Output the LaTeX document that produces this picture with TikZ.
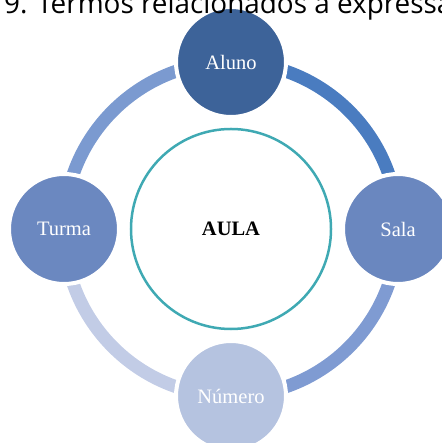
\documentclass[tikz,border=0pt]{standalone}
\usepackage{fontspec}
\setmainfont{Liberation Serif}
\newfontfamily\captionfont{Open Sans}
\usetikzlibrary{backgrounds}

\definecolor{alunoblue}{HTML}{3D6399}
\definecolor{turmablue}{HTML}{6B88C0}
\definecolor{salablue}{HTML}{6A87BF}
\definecolor{numeroblue}{HTML}{B5C3E0}
\definecolor{ringA}{HTML}{4A7CC0}
\definecolor{ringB}{HTML}{7F9BD2}
\definecolor{ringC}{HTML}{C2CCE6}
\definecolor{ringD}{HTML}{7B9AD0}
\definecolor{aulateal}{HTML}{3FA9B3}

\begin{document}
\begin{tikzpicture}[x=0.03cm, y=0.03cm,
    main/.style = {circle, draw=white, line width=1.2mm, minimum size=3.3cm,
        text=white, font=\fontsize{17.5}{20}\selectfont},
    ring/.style = {line width=3.9mm}]
    \useasboundingbox (0,0) rectangle (441,443);

    \node[circle, draw=aulateal, line width=0.75mm, minimum size=6cm,
        font=\bfseries\fontsize{17.5}{20}\selectfont] (aula) at (231, 214) {AULA};

    \node[main, fill=alunoblue] (aluno) at (231, 381) {Aluno};
    \node[main, fill=salablue] (sala) at (398, 214) {Sala};
    \node[main, fill=numeroblue] (numero) at (231, 47) {Número};
    \node[main, fill=turmablue] (turma) at (64, 214) {Turma};

    \begin{scope}[on background layer]
        \draw[ring, ringA] (aluno.center) arc[start angle=90, end angle=0, radius=5.01cm];
        \draw[ring, ringB] (sala.center) arc[start angle=0, end angle=-90, radius=5.01cm];
        \draw[ring, ringC] (numero.center) arc[start angle=270, end angle=180, radius=5.01cm];
        \draw[ring, ringD] (turma.center) arc[start angle=180, end angle=90, radius=5.01cm];
    \end{scope}

    % caption cut off at the top edge
    \begin{scope}
        \clip (0,0) rectangle (441,443);
        \node[anchor=base west, inner sep=0, font=\captionfont\fontsize{23.8}{26}\selectfont] (caption) at (4, 429) {9. Termos relacionados à expressão};
    \end{scope}
\end{tikzpicture}
\end{document}
